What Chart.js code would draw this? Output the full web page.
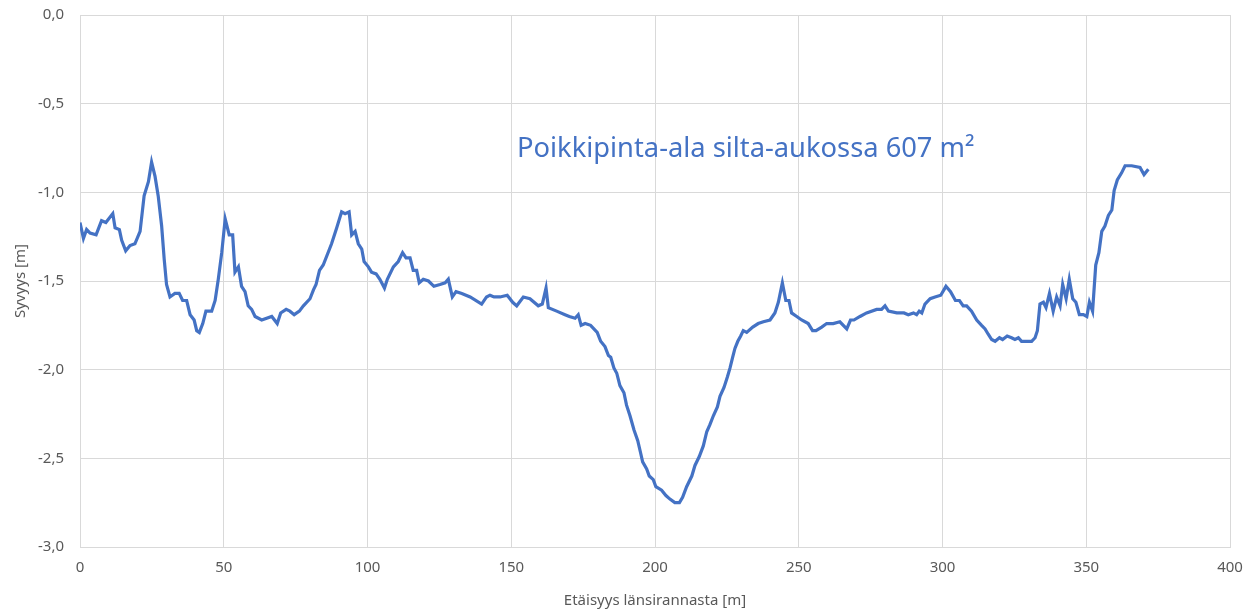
<!DOCTYPE html>
<html>
<head>
<meta charset="utf-8">
<script src="https://cdn.jsdelivr.net/npm/chart.js@4"></script>
<style>
  html, body { margin:0; padding:0; background:#fff; }
  #wrap { width:1258px; height:613px; }
</style>
</head>
<body>
<div id="wrap"><canvas id="kuva"></canvas></div>
<script>
// etaisyys länsirannasta [m]
let etaisyys=[0,1.2,2.3,3.5,5.6,7.5,9,11.4,12.2,13.7,14.5,15.9,17.4,19.1,20.9,22.3,23.8,24.9,26.1,27.2,
  28.4,29.3,30.1,31.3,33,34.5,35.7,37.1,38.3,39.7,40.6,41.5,42.7,43.8,45.8,47,48.1,49.3,50.5,51.9,
  53.1,53.9,55.1,56.2,57.4,58.5,59.7,60.9,63.2,66.7,68.6,69.8,71.7,73,74.5,76.3,77.7,80,81.2,82.1,
  83.3,84.6,87.5,89.3,91,92.2,93.6,94.5,95.7,96.8,98,98.8,100.3,101.4,103,104.3,105.9,106.9,109,110.7,
  112.2,113.4,114.8,115.9,117.1,118,119.4,121.2,123.1,125.2,127,128.1,129.5,130.8,132.8,135.7,139.7,141.4,142.6,144,
  146.1,148.6,150.5,151.9,154.2,156.5,159.4,160.8,162.1,162.9,165.8,168.7,170.2,172.2,173.3,174.3,175.7,177.6,179.9,181.1,
  182.6,183.8,184.6,185.7,186.7,187.8,189.2,190.1,191.3,192.7,194,195,195.7,197.1,198,199.4,200.3,202.3,203.8,205.2,
  206.9,208.5,209.6,211,212.8,213.9,215.4,216.8,218,219.1,220.3,221.7,222.6,224,225.2,226.1,227,227.8,228.8,229.8,
  230.7,231.9,234,235.9,237.7,240,241.7,242.9,244.3,245.5,246.6,247.5,249.3,251,253.3,254.8,256,258,259.7,262,
  264.3,266.7,268,269.2,271.3,273.6,277.1,278.8,280,281.2,284.1,286.6,288.1,289.9,291,291.9,292.8,293.9,295.7,297.4,
  299.4,301.2,302.8,304.5,305.9,307.2,308.4,310.1,311.9,313.6,314.8,315.9,317.1,318.3,319.8,320.9,322.5,324,325.2,326.4,
  327.5,331,332.2,333,333.9,335.1,336,337.2,338.5,339.7,340.9,341.8,343,344.1,345.3,346.4,347.6,349,350.2,351.1,
  352.2,353.3,354.4,355.4,356.5,357.7,358.9,359.7,360.8,362.3,363.5,365.8,368.7,370.1,371.6]
// syvyys [m]
let syvyys=[-1.17,-1.26,-1.21,-1.23,-1.24,-1.16,-1.17,-1.12,-1.20,-1.21,-1.27,-1.33,-1.30,-1.29,-1.22,-1.02,-0.94,-0.83,-0.91,-1.02,
  -1.19,-1.38,-1.52,-1.59,-1.57,-1.57,-1.61,-1.61,-1.69,-1.72,-1.78,-1.79,-1.74,-1.67,-1.67,-1.61,-1.49,-1.34,-1.15,-1.24,
  -1.24,-1.45,-1.42,-1.53,-1.56,-1.64,-1.66,-1.70,-1.72,-1.70,-1.74,-1.68,-1.66,-1.67,-1.69,-1.67,-1.64,-1.60,-1.55,-1.52,
  -1.44,-1.41,-1.29,-1.20,-1.11,-1.12,-1.11,-1.24,-1.22,-1.29,-1.32,-1.39,-1.42,-1.45,-1.46,-1.49,-1.54,-1.49,-1.42,-1.39,
  -1.34,-1.37,-1.37,-1.44,-1.44,-1.51,-1.49,-1.50,-1.53,-1.52,-1.51,-1.49,-1.59,-1.56,-1.57,-1.59,-1.63,-1.59,-1.58,-1.59,
  -1.59,-1.58,-1.62,-1.64,-1.59,-1.60,-1.64,-1.63,-1.54,-1.65,-1.67,-1.69,-1.70,-1.71,-1.69,-1.75,-1.74,-1.75,-1.79,-1.84,
  -1.87,-1.92,-1.93,-1.99,-2.02,-2.09,-2.13,-2.20,-2.26,-2.34,-2.40,-2.47,-2.52,-2.56,-2.60,-2.62,-2.66,-2.68,-2.71,-2.73,
  -2.75,-2.75,-2.72,-2.66,-2.60,-2.54,-2.49,-2.43,-2.35,-2.31,-2.26,-2.21,-2.15,-2.10,-2.04,-1.99,-1.93,-1.88,-1.84,-1.81,
  -1.78,-1.79,-1.76,-1.74,-1.73,-1.72,-1.68,-1.62,-1.51,-1.61,-1.61,-1.68,-1.70,-1.72,-1.74,-1.78,-1.78,-1.76,-1.74,-1.74,
  -1.73,-1.77,-1.72,-1.72,-1.70,-1.68,-1.66,-1.66,-1.64,-1.67,-1.68,-1.68,-1.69,-1.68,-1.69,-1.67,-1.68,-1.63,-1.60,-1.59,
  -1.58,-1.53,-1.56,-1.61,-1.61,-1.64,-1.64,-1.67,-1.72,-1.75,-1.77,-1.80,-1.83,-1.84,-1.82,-1.83,-1.81,-1.82,-1.83,-1.82,
  -1.84,-1.84,-1.82,-1.78,-1.63,-1.62,-1.65,-1.57,-1.67,-1.59,-1.64,-1.52,-1.60,-1.49,-1.60,-1.62,-1.69,-1.69,-1.70,-1.62,
  -1.67,-1.41,-1.34,-1.22,-1.19,-1.13,-1.10,-0.99,-0.93,-0.89,-0.85,-0.85,-0.86,-0.90,-0.87]

let xTicks=[0,50,100,150,200,250,300,350,400]
let yTicks=[0,-0.5,-1,-1.5,-2,-2.5,-3]
let teksti="Poikkipinta-ala silta-aukossa 607 m\u00B2"
let tekstiPaikka=[152,-0.8]   // x [m], syvyys [m]

let pisteet=[]
for(let i=0;i<etaisyys.length;i++){
  pisteet.push({x:etaisyys[i],y:syvyys[i]})
}

let fontti="'Noto Sans', 'Open Sans', sans-serif"
let harmaa='#d9d9d9'
let tekstiVari='#595959'

// piirtää tekstin kaavion sisään
const tekstiPlugin={
  id:'teksti',
  afterDatasetsDraw(chart){
    const ctx=chart.ctx
    const x=chart.scales.x.getPixelForValue(tekstiPaikka[0])
    const y=chart.scales.y.getPixelForValue(tekstiPaikka[1])
    ctx.save()
    ctx.font="27.3px "+fontti
    ctx.fillStyle='#4472C4'
    ctx.textBaseline='alphabetic'
    ctx.textAlign='left'
    ctx.fillText(teksti,x,y)
    ctx.restore()
  }
}

const config={
  type:'line',
  data:{
    datasets:[{
      label:'Syvyys',
      data:pisteet,
      borderColor:'#4472C4',
      borderWidth:3.2,
      pointRadius:0,
      tension:0,
      fill:false
    }]
  },
  options:{
    responsive:true,
    maintainAspectRatio:false,
    animation:false,
    layout:{padding:{left:0,right:28,top:15,bottom:0}},
    plugins:{
      legend:{display:false},
      tooltip:{enabled:false}
    },
    scales:{
      x:{
        type:'linear',
        min:0,max:400,
        afterBuildTicks(scale){ scale.ticks=xTicks.map(v=>({value:v})) },
        afterFit(scale){ scale.height=66 },
        grid:{color:harmaa,lineWidth:1,drawTicks:false},
        border:{color:harmaa},
        ticks:{color:tekstiVari,font:{family:fontti,size:15},padding:12,
          callback:(v)=>String(v)},
        title:{display:true,text:'Etäisyys länsirannasta [m]',color:tekstiVari,
          font:{family:fontti,size:15},padding:{top:0,bottom:3}}
      },
      y:{
        type:'linear',
        min:-3,max:0,
        afterBuildTicks(scale){ scale.ticks=yTicks.map(v=>({value:v})) },
        afterFit(scale){
          scale.width=80
          scale.paddingTop=0
          scale.paddingBottom=0
        },
        grid:{color:harmaa,lineWidth:1,drawTicks:false},
        border:{color:harmaa},
        ticks:{color:tekstiVari,font:{family:fontti,size:15},padding:16,
          callback:(v)=>v.toFixed(1).replace('.',',')},
        title:{display:true,text:'Syvyys [m]',color:tekstiVari,
          font:{family:fontti,size:15},padding:{top:12,bottom:0}}
      }
    }
  },
  plugins:[tekstiPlugin]
}

const kaavio=new Chart(document.getElementById('kuva'),config)
</script>
</body>
</html>
